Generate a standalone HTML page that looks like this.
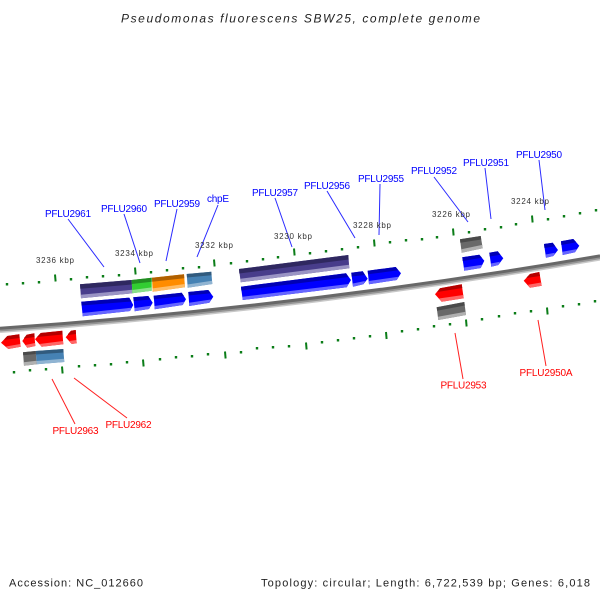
<!DOCTYPE html>
<html><head><meta charset="utf-8"><style>
html,body{margin:0;padding:0;background:#fff}
svg{display:block}
text{font-family:"Liberation Sans",sans-serif}
.b{fill:#0000ff;font-size:10px;text-anchor:middle}
.r{fill:#ff0000;font-size:10px;text-anchor:middle}
.k{fill:#333;font-size:8px;text-anchor:middle}
.f{fill:#222;font-size:11px}
</style></head><body>
<svg width="600" height="600" viewBox="0 0 600 600" xmlns="http://www.w3.org/2000/svg">
<rect width="600" height="600" fill="#fff"/>
<text x="300.500" y="22.300" text-anchor="middle" textLength="359" lengthAdjust="spacing" font-style="italic" font-size="12px" fill="#222">Pseudomonas fluorescens SBW25, complete genome</text>

<!-- connectors -->
<g stroke="#2a2aff" stroke-width="1" fill="none">
<path d="M68 219L104 267M124 214L140 263M177 209L166 261M218 205L197 257M275 198L292 247M327 191L355 238M380 184L379 235M434 177L468 222M485 168L491 219M539 160L545 210"/>
</g>
<g stroke="#ff2020" stroke-width="1" fill="none">
<path d="M455 333L463 379M538 320L546 366M52 379L75 424M74 378L127 418"/>
</g>

<!-- ticks -->
<g stroke="#0b7d18" stroke-width="2.400" fill="none">
<path d="M7 283v2.500M23 282v2.500M39 281v2.500M71 278v2.500M87 276v2.500M103 275v2.500M119 274v2.500M151 271v2.500M167 269v2.500M183 267v2.500M199 266v2.500M231 262v2.500M247 260v2.500M263 258v2.500M278 256v2.500M310 252v2.500M326 250v2.500M342 248v2.500M358 246v2.500M390 241v2.500M406 239v2.500M422 238v2.500M437 236v2.500M469 231v2.500M485 228v2.500M501 226v2.500M516 223v2.500M548 218v2.500M564 215v2.500M580 212v2.500M596 209v2.500"/>
<path d="M14 371v2.500M30 369v2.500M46 368v2.500M79 365v2.500M95 364v2.500M111 363v2.500M127 361v2.500M160 358v2.500M176 356v2.500M192 355v2.500M208 353v2.500M241 351v2.500M257 347v2.500M273 346v2.500M289 345v2.500M322 341v2.500M338 339v2.500M354 337v2.500M370 335v2.500M402 330v2.500M418 328v2.500M434 325v2.500M450 323v2.500M482 318v2.500M499 315v2.500M515 312v2.500M531 310v2.500M563 305v2.500M579 303v2.500M595 300v2.500"/>
</g>
<g stroke="#0b7d18" stroke-width="2" fill="none">
<path d="M55 274.500l.6 7M135 267.500l.6 7M214 259.500l.6 7M294 248.500l.6 7M374 239.500l.6 7M453 228.500l.6 7M532 215.500l.6 7"/>
<path d="M62 366.500l.6 7M143 359.500l.6 7M225 351.500l.6 7M306 342.500l.6 7M386 332l.6 7M466 319.500l.6 7M547 307.500l.6 7"/>
</g>

<!-- kbp labels -->
<text class="k" x="55" y="263" textLength="38" lengthAdjust="spacing">3236 kbp</text>
<text class="k" x="134" y="256" textLength="38" lengthAdjust="spacing">3234 kbp</text>
<text class="k" x="214" y="248" textLength="38" lengthAdjust="spacing">3232 kbp</text>
<text class="k" x="293" y="239" textLength="38" lengthAdjust="spacing">3230 kbp</text>
<text class="k" x="372" y="228" textLength="38" lengthAdjust="spacing">3228 kbp</text>
<text class="k" x="451" y="217" textLength="38" lengthAdjust="spacing">3226 kbp</text>
<text class="k" x="530" y="204" textLength="38" lengthAdjust="spacing">3224 kbp</text>

<!-- genome backbone -->
<path d="M0 331.300Q300 310.300 600 258.800" stroke="#c8c8c8" stroke-width="3.500" fill="none"/>
<path d="M0 329.800Q300 308.800 600 257.300" stroke="#949494" stroke-width="3.500" fill="none"/>
<path d="M0 328.300Q300 307.300 600 255.800" stroke="#686868" stroke-width="3" fill="none"/>

<!-- purple -->
<polygon points="80,284.300 131.700,280 132.300,293.300 81,298.300" fill="#483d8b"/>
<polygon points="80,284.300 131.700,280 131.900,284.500 80.300,288.800" fill="#2f2860"/>
<polygon points="80.800,294.800 132.200,289.800 132.300,293.300 81,298.300" fill="#9a94c4"/>
<polygon points="239,269 348.300,255 349.300,268.300 240.700,282.300" fill="#483d8b"/>
<polygon points="239,269 348.300,255 348.600,259.500 239.300,273.500" fill="#2f2860"/>
<polygon points="240.400,278.800 349,264.800 349.300,268.300 240.700,282.300" fill="#9a94c4"/>

<!-- green, orange, steel -->
<polygon points="131.700,280 151.700,277.700 151.700,290.700 132.300,293.300" fill="#32cd32"/>
<polygon points="131.700,280 151.700,277.700 151.700,281.700 131.900,284" fill="#228b22"/>
<polygon points="132.200,290 151.700,287.400 151.700,290.700 132.300,293.300" fill="#8ae08a"/>
<polygon points="152,277.700 184,274.300 185,287.300 152.700,291.700" fill="#ff8c00"/>
<polygon points="152,277.700 184,274.300 184.300,278.300 152.200,281.700" fill="#b06000"/>
<polygon points="152.600,288.400 184.800,284 185,287.300 152.700,291.700" fill="#ffbc66"/>
<polygon points="186.700,274 211.300,271.700 212.300,284 187.700,287.700" fill="#4682b4"/>
<polygon points="186.700,274 211.300,271.700 211.600,275.200 187,277.500" fill="#315b7e"/>
<polygon points="187.500,284.500 212,280.800 212.300,284 187.700,287.700" fill="#90b4d2"/>
<polygon points="35.700,351 63.300,349 64.300,362 36.700,364.300" fill="#4682b4"/>
<polygon points="35.700,351 63.300,349 63.600,352.500 36,354.500" fill="#315b7e"/>
<polygon points="36.500,361 64,358.700 64.300,362 36.700,364.300" fill="#90b4d2"/>

<!-- gray -->
<polygon points="23,352.300 35.700,351 36.700,364.300 24,365.700" fill="#696969"/>
<polygon points="23,352.300 35.700,351 35.900,354 23.200,355.300" fill="#4a4a4a"/>
<polygon points="23.800,362.200 36.500,360.800 36.700,364.300 24,365.700" fill="#b0b0b0"/>
<polygon points="460,239.300 480.700,236 482.700,248.300 461.700,252.700" fill="#696969"/>
<polygon points="460,239.300 480.700,236 481.200,239.500 460.300,242.800" fill="#4a4a4a"/>
<polygon points="461.400,249.200 482.300,244.900 482.700,248.300 461.700,252.700" fill="#b0b0b0"/>
<polygon points="436.700,307.300 464.300,302 466,315 438.300,320" fill="#696969"/>
<polygon points="436.700,307.300 464.300,302 464.800,305.500 437.100,310.800" fill="#4a4a4a"/>
<polygon points="438,316.700 465.600,311.700 466,315 438.300,320" fill="#b0b0b0"/>

<!-- blue arrows -->
<g fill="#0000ff">
<polygon points="81.300,301.700 129.300,297.700 133.300,305 130,311 82.700,316.300"/>
<polygon points="133.300,297.300 148.300,296 152.700,302.700 149,309 134.700,311.300"/>
<polygon points="153.700,295.700 181.700,292.700 186,299.300 182.700,305 154.700,309.300"/>
<polygon points="188.300,292 208.300,290 213.300,296.700 209.300,302.700 189.300,306"/>
<polygon points="241,286.700 346,273.300 351,280 346.700,287.300 242.700,300"/>
<polygon points="351.300,272.700 362.700,271.300 367.700,278.700 363.300,284.300 353,286.700"/>
<polygon points="367.700,270.700 395.700,267 401,273.300 396.700,280 369,284.300"/>
<polygon points="462.300,257.300 479.300,254.700 484.300,260.700 480.700,268 464.300,270.700"/>
<polygon points="489.300,252.700 497.700,251.300 503.300,258.300 498.300,265 491.300,266.700"/>
<polygon points="544,244 552.700,242.700 558,250 553.300,256 546,257.700"/>
<polygon points="561,241.300 573.300,239 579.300,245.700 575,252.300 562.700,255"/>
</g>
<g fill="#0000b4">
<polygon points="81.300,301.700 129.300,297.700 131.500,301.500 81.500,305.500"/>
<polygon points="133.300,297.300 148.300,296 150.500,299.500 133.600,301"/>
<polygon points="153.700,295.700 181.700,292.700 184,296 154,299.300"/>
<polygon points="188.300,292 208.300,290 210.800,293.300 188.600,295.500"/>
<polygon points="241,286.700 346,273.300 348.600,277 241.300,290.500"/>
<polygon points="351.300,272.700 362.700,271.300 365,275 351.600,276.500"/>
<polygon points="367.700,270.700 395.700,267 398.400,270.300 368,274.300"/>
<polygon points="462.300,257.300 479.300,254.700 482,257.800 462.700,261"/>
<polygon points="489.300,252.700 497.700,251.300 500.500,254.800 489.800,256.500"/>
<polygon points="544,244 552.700,242.700 555.300,246.300 544.400,248"/>
<polygon points="561,241.300 573.300,239 576.300,242.300 561.300,245"/>
</g>
<g fill="#6666ff">
<polygon points="82.400,313 131.500,307.700 130,311 82.700,316.300"/>
<polygon points="134.500,308 150.500,305.800 149,309 134.700,311.300"/>
<polygon points="154.500,306 184.300,301.700 182.700,305 154.700,309.300"/>
<polygon points="189.100,302.800 211,299.500 209.300,302.700 189.300,306"/>
<polygon points="242.400,296.700 348.600,284 346.700,287.300 242.700,300"/>
<polygon points="352.800,283.500 365,281 363.300,284.300 353,286.700"/>
<polygon points="368.800,281 398.500,276.700 396.700,280 369,284.300"/>
<polygon points="464,267.500 482.300,264.800 480.700,268 464.300,270.700"/>
<polygon points="491,263.500 500,261.800 498.300,265 491.300,266.700"/>
<polygon points="545.700,254.500 555,252.800 553.300,256 546,257.700"/>
<polygon points="562.400,251.800 576.800,249.100 575,252.300 562.700,255"/>
</g>

<!-- red arrows -->
<g fill="#ff0000">
<polygon points="1,342.700 7.300,336 19.300,334.300 20.700,346.700 8.300,349"/>
<polygon points="22.300,341 26.700,334.700 34.300,333.300 35.300,346 27.300,347.700"/>
<polygon points="35,339.300 40.700,333 62.300,330.700 63.300,344.300 41.700,346.700"/>
<polygon points="65.700,337.300 71,330.700 75.700,330 76.700,343.300 71.700,344"/>
<polygon points="435,294.300 440,288.300 461.700,284.300 463.700,298.300 441.700,301.700"/>
<polygon points="523.700,280.700 530,274 539.300,272 541.700,285.700 530,287.700"/>
</g>
<g fill="#b40000">
<polygon points="5,338.500 7.300,336 19.300,334.300 19.600,338 4,340"/>
<polygon points="24,338 26.700,334.700 34.300,333.300 34.600,337 24,338.500"/>
<polygon points="37.500,336.500 40.700,333 62.300,330.700 62.600,334.500 37,337"/>
<polygon points="68,334 71,330.700 75.700,330 76,334 68,335"/>
<polygon points="437.500,291.500 440,288.300 461.700,284.300 462.300,288 437.500,292"/>
<polygon points="527,277 530,274 539.300,272 540,276 526.500,278"/>
</g>
<g fill="#ff6666">
<polygon points="6,346.500 20.400,344 20.700,346.700 8.300,349"/>
<polygon points="25.500,345 35,343 35.300,346 27.300,347.700"/>
<polygon points="39.500,344 63,341 63.300,344.300 41.700,346.700"/>
<polygon points="69.500,341 76.400,340 76.700,343.300 71.700,344"/>
<polygon points="439,298.500 463.200,295 463.700,298.300 441.700,301.700"/>
<polygon points="528,284.800 541.200,282.500 541.700,285.700 530,287.700"/>
</g>

<!-- gene labels -->
<text class="b" x="68" y="217" textLength="46" lengthAdjust="spacing">PFLU2961</text>
<text class="b" x="124" y="212" textLength="46" lengthAdjust="spacing">PFLU2960</text>
<text class="b" x="177" y="207" textLength="46" lengthAdjust="spacing">PFLU2959</text>
<text class="b" x="218" y="202" textLength="22" lengthAdjust="spacing">chpE</text>
<text class="b" x="275" y="196" textLength="46" lengthAdjust="spacing">PFLU2957</text>
<text class="b" x="327" y="189" textLength="46" lengthAdjust="spacing">PFLU2956</text>
<text class="b" x="381" y="182" textLength="46" lengthAdjust="spacing">PFLU2955</text>
<text class="b" x="434" y="174" textLength="46" lengthAdjust="spacing">PFLU2952</text>
<text class="b" x="486" y="166" textLength="46" lengthAdjust="spacing">PFLU2951</text>
<text class="b" x="539" y="158" textLength="46" lengthAdjust="spacing">PFLU2950</text>
<text class="r" x="463.500" y="388.500" textLength="46" lengthAdjust="spacing">PFLU2953</text>
<text class="r" x="546" y="376" textLength="53" lengthAdjust="spacing">PFLU2950A</text>
<text class="r" x="75.500" y="434" textLength="46" lengthAdjust="spacing">PFLU2963</text>
<text class="r" x="128.500" y="428" textLength="46" lengthAdjust="spacing">PFLU2962</text>

<text class="f" x="9" y="586.500" textLength="134" lengthAdjust="spacing">Accession: NC_012660</text>
<text class="f" x="261" y="586.500" textLength="329" lengthAdjust="spacing">Topology: circular; Length: 6,722,539 bp; Genes: 6,018</text>
</svg>
</body></html>
